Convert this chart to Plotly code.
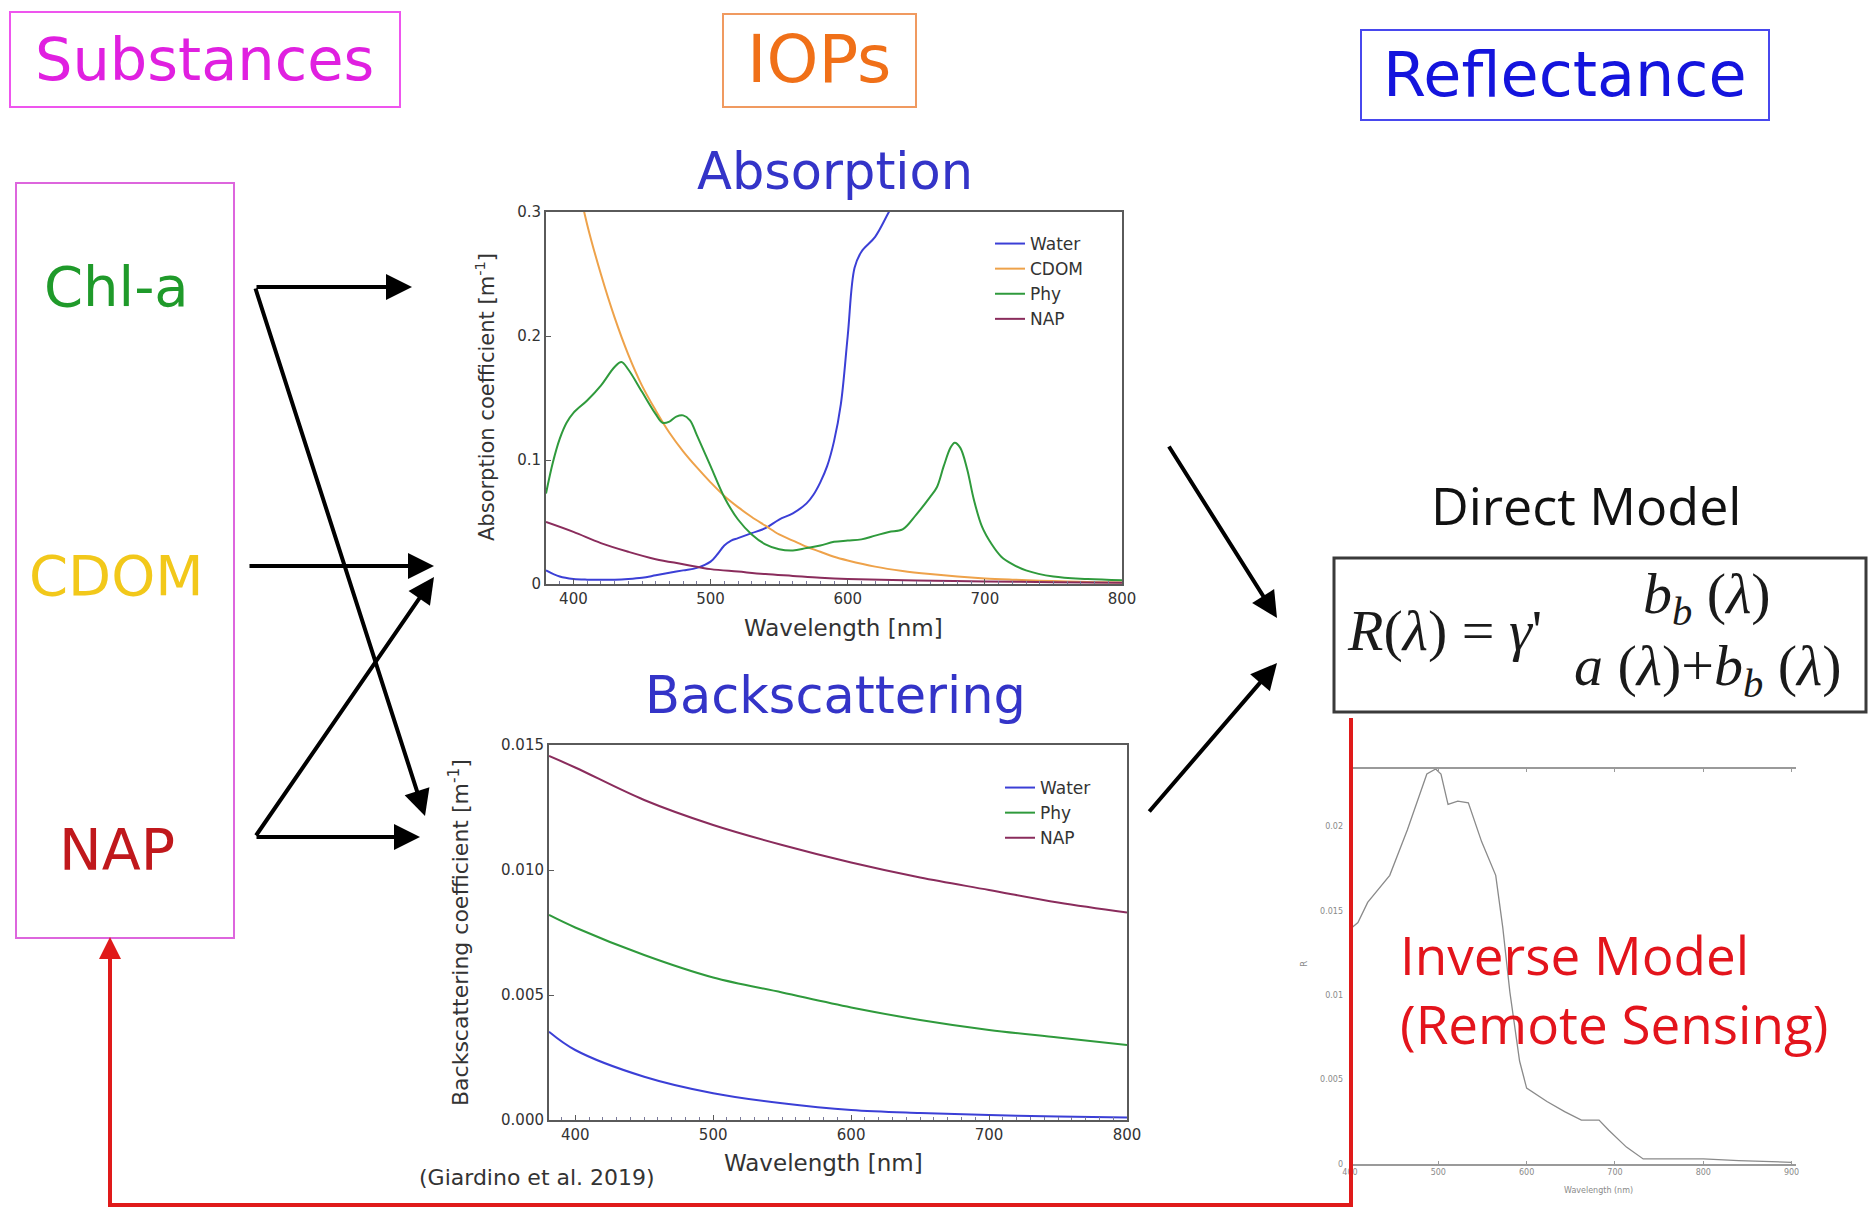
import plotly.graph_objects as go

W, H = 1870, 1211


def px(x):
    return x / W


def py(y):
    return 1 - y / H


# ---------------- absorption spectra (m^-1) ----------------
wl_water_a = [380, 390, 400, 410, 420, 430, 440, 450, 460, 470, 480, 490, 500, 505, 510,
              515, 520, 530, 540, 550, 560, 570, 575, 580, 585, 590, 595, 600, 605, 610,
              620, 630, 640]
a_water = [0.011, 0.006, 0.004, 0.0035, 0.0035, 0.0035, 0.004, 0.005, 0.007, 0.009, 0.011,
           0.013, 0.018, 0.024, 0.031, 0.035, 0.037, 0.041, 0.045, 0.052, 0.057, 0.065,
           0.072, 0.082, 0.095, 0.115, 0.145, 0.2, 0.255, 0.268, 0.28, 0.3, 0.32]

wl_cdom_a = [400, 410, 420, 430, 440, 450, 460, 470, 480, 490, 500, 510, 520, 530, 540,
             550, 560, 570, 580, 590, 600, 620, 640, 660, 680, 700, 720, 740, 760, 780, 800]
a_cdom = [0.34, 0.29, 0.25, 0.215, 0.185, 0.16, 0.14, 0.122, 0.107, 0.094, 0.082, 0.071,
          0.062, 0.054, 0.047, 0.04, 0.035, 0.03, 0.026, 0.022, 0.019, 0.014, 0.0105, 0.008,
          0.006, 0.0045, 0.0035, 0.0027, 0.002, 0.0015, 0.0012]

wl_phy_a = [380, 385, 390, 395, 400, 410, 420, 430, 435, 440, 450, 460, 465, 470, 475, 480,
            485, 490, 500, 510, 520, 530, 540, 550, 560, 570, 580, 590, 600, 610, 620, 630,
            640, 650, 660, 665, 670, 675, 678, 682, 687, 692, 698, 705, 712, 720, 730, 750,
            775, 800]
a_phy = [0.073, 0.098, 0.117, 0.13, 0.138, 0.148, 0.16, 0.175, 0.179, 0.173, 0.155, 0.137,
         0.13, 0.131, 0.135, 0.136, 0.132, 0.12, 0.095, 0.07, 0.052, 0.04, 0.032, 0.028,
         0.027, 0.029, 0.031, 0.034, 0.035, 0.036, 0.039, 0.042, 0.044, 0.056, 0.07, 0.078,
         0.095, 0.11, 0.114, 0.11, 0.093, 0.068, 0.046, 0.032, 0.022, 0.016, 0.011, 0.006,
         0.004, 0.003]

wl_nap_a = [380, 400, 420, 440, 460, 480, 500, 520, 540, 560, 580, 600, 650, 700, 750, 800]
a_nap = [0.05, 0.042, 0.033, 0.026, 0.02, 0.016, 0.012, 0.01, 0.008, 0.0065, 0.005, 0.004,
         0.0028, 0.002, 0.0015, 0.001]

# ---------------- backscattering spectra (m^-1) ----------------
wl_bb = [381, 400, 450, 500, 550, 600, 650, 700, 750, 800]
bb_water = [0.00353, 0.0028, 0.00173, 0.00107, 0.00067, 0.0004, 0.00028, 0.0002, 0.00014, 0.0001]
bb_phy = [0.0082, 0.0077, 0.0066, 0.0057, 0.0051, 0.0045, 0.0040, 0.0036, 0.0033, 0.0030]
bb_nap = [0.01456, 0.0141, 0.0128, 0.0118, 0.0110, 0.0103, 0.0097, 0.0092, 0.0087, 0.0083]

# ---------------- reflectance spectrum ----------------
wl_refl = [402, 409, 420, 445, 465, 487, 497, 503, 511, 522, 534, 549, 565, 573, 581, 592,
           600, 623, 643, 662, 682, 693, 713, 732, 800, 840, 900]
refl = [0.0140, 0.0143, 0.0155, 0.0171, 0.0198, 0.0231, 0.0234, 0.0231, 0.0213, 0.0215,
        0.0214, 0.0191, 0.0171, 0.0140, 0.0102, 0.0061, 0.0045, 0.0037, 0.0031, 0.0026,
        0.0026, 0.0020, 0.0010, 0.0003, 0.0003, 0.0002, 0.0001]

wl_ticks = [400, 500, 600, 700, 800]
a_ticks = [0, 0.1, 0.2, 0.3]
a_ticktext = ["0", "0.1", "0.2", "0.3"]
bb_ticks = [0, 0.005, 0.010, 0.015]
bb_ticktext = ["0.000", "0.005", "0.010", "0.015"]
r_wl_ticks = [400, 500, 600, 700, 800, 900]
r_ticks = [0, 0.005, 0.01, 0.015, 0.02]
r_ticktext = ["0", "0.005", "0.01", "0.015", "0.02"]

C_WATER = "#3b3fd6"
C_CDOM = "#eea24a"
C_PHY = "#2f9a3c"
C_NAP = "#8a2c5c"

fig = go.Figure()

line_kw = dict(mode="lines", line_shape="spline")
fig.add_trace(go.Scatter(x=wl_water_a, y=a_water, name="Water", line=dict(color=C_WATER, width=2),
                         xaxis="x", yaxis="y", legend="legend", **line_kw))
fig.add_trace(go.Scatter(x=wl_cdom_a, y=a_cdom, name="CDOM", line=dict(color=C_CDOM, width=2),
                         xaxis="x", yaxis="y", legend="legend", **line_kw))
fig.add_trace(go.Scatter(x=wl_phy_a, y=a_phy, name="Phy", line=dict(color=C_PHY, width=2),
                         xaxis="x", yaxis="y", legend="legend", **line_kw))
fig.add_trace(go.Scatter(x=wl_nap_a, y=a_nap, name="NAP", line=dict(color=C_NAP, width=2),
                         xaxis="x", yaxis="y", legend="legend", **line_kw))

fig.add_trace(go.Scatter(x=wl_bb, y=bb_water, name="Water", line=dict(color=C_WATER, width=2),
                         xaxis="x2", yaxis="y2", legend="legend2", **line_kw))
fig.add_trace(go.Scatter(x=wl_bb, y=bb_phy, name="Phy", line=dict(color=C_PHY, width=2),
                         xaxis="x2", yaxis="y2", legend="legend2", **line_kw))
fig.add_trace(go.Scatter(x=wl_bb, y=bb_nap, name="NAP", line=dict(color=C_NAP, width=2),
                         xaxis="x2", yaxis="y2", legend="legend2", **line_kw))

fig.add_trace(go.Scatter(x=wl_refl, y=refl, mode="lines", line=dict(color="#8a8a8a", width=1.3),
                         xaxis="x3", yaxis="y3", showlegend=False))

TICKFONT = dict(family="DejaVu Sans", size=15, color="#333333")
frame = dict(showline=True, mirror=True, linecolor="#5a5a5a", linewidth=2, showgrid=False,
             zeroline=False, ticks="inside", ticklen=5, tickcolor="#5a5a5a", tickfont=TICKFONT,
             automargin=False)
LEGFONT = dict(family="DejaVu Sans", size=17, color="#333333")

layout = dict(
    width=W, height=H, margin=dict(l=0, r=0, t=0, b=0, pad=0, autoexpand=False),
    paper_bgcolor="white", plot_bgcolor="white",
    xaxis=dict(domain=[px(546), px(1122)], range=[380, 800], tickvals=wl_ticks, anchor="y",
               minor=dict(ticks="inside", ticklen=3, dtick=10, tickcolor="#7a7a9a"), **frame),
    yaxis=dict(domain=[py(584), py(212)], range=[0, 0.3], tickvals=a_ticks, ticktext=a_ticktext,
               anchor="x", **frame),
    xaxis2=dict(domain=[px(549), px(1127)], range=[381, 800], tickvals=wl_ticks, anchor="y2",
                minor=dict(ticks="inside", ticklen=3, dtick=10, tickcolor="#7a7a9a"), **frame),
    yaxis2=dict(domain=[py(1120), py(745)], range=[0, 0.015], tickvals=bb_ticks,
                ticktext=bb_ticktext, anchor="x2", **frame),
    xaxis3=dict(domain=[px(1350), px(1796)], range=[400, 905], tickvals=r_wl_ticks, anchor="y3",
                showline=True, mirror="ticks", linecolor="#9a9a9a", linewidth=1.5,
                showgrid=False, zeroline=False, ticks="inside", ticklen=3, tickcolor="#9a9a9a",
                automargin=False,
                tickfont=dict(family="DejaVu Sans", size=8, color="#8a8a8a")),
    yaxis3=dict(domain=[py(1164), py(769)], range=[0, 0.0234], tickvals=r_ticks,
                ticktext=r_ticktext, anchor="x3", showline=False, showgrid=False,
                zeroline=False, ticks="", ticklabelstandoff=6, automargin=False,
                tickfont=dict(family="DejaVu Sans", size=8, color="#8a8a8a")),
    legend=dict(x=px(990), y=py(226), xanchor="left", yanchor="top", tracegroupgap=0,
                bgcolor="rgba(0,0,0,0)", font=LEGFONT),
    legend2=dict(x=px(1000), y=py(770), xanchor="left", yanchor="top", tracegroupgap=0,
                 bgcolor="rgba(0,0,0,0)", font=LEGFONT),
)
fig.update_layout(**layout)

shapes = []
annos = []


def rect(x0, y0, x1, y1, color, width=2):
    shapes.append(dict(type="rect", xref="paper", yref="paper", x0=px(x0), x1=px(x1),
                       y0=py(y1), y1=py(y0), line=dict(color=color, width=width),
                       fillcolor="rgba(0,0,0,0)"))


def text(x, y, s, size, color, family="DejaVu Sans", xanchor="center", angle=0):
    annos.append(dict(x=px(x), y=py(y), xref="paper", yref="paper", text=s, showarrow=False,
                      xanchor=xanchor, yanchor="middle", textangle=angle,
                      font=dict(family=family, size=size, color=color)))


def arrow(x0, y0, x1, y1, color="black", width=4, size=1.3):
    annos.append(dict(x=px(x1), y=py(y1), xref="paper", yref="paper", ax=x0 - x1, ay=y0 - y1,
                      axref="pixel", ayref="pixel", text="", showarrow=True, arrowhead=2,
                      arrowsize=size, arrowwidth=width, arrowcolor=color))


# column headers
rect(10, 12, 400, 107, "#ee55ee")
text(204, 60, "Substances", 59, "#e020e0")
rect(723, 14, 916, 107, "#f09a60")
text(819, 60, "IOPs", 66, "#f07018")
rect(1361, 30, 1769, 120, "#4848ee")
text(1565, 75, "Reflectance", 62, "#1414dd")

# substances column
rect(16, 183, 234, 938, "#dd66dd")
text(116, 286, "Chl-a", 56, "#1f9a2a")
text(117, 576, "CDOM", 56, "#f2c81a")
text(117, 850, "NAP", 57, "#c0181c")

# panel titles and axis titles
text(835, 171, "Absorption", 51, "#3434c8")
text(835, 695, "Backscattering", 51, "#3434c8")
text(485, 397, "Absorption coefficient [m<sup>-1</sup>]", 21, "#333333", angle=-90)
text(843, 628, "Wavelength [nm]", 23, "#333333")
text(459, 933, "Backscattering coefficient [m<sup>-1</sup>]", 22, "#333333", angle=-90)
text(823, 1163, "Wavelength [nm]", 23, "#333333")
text(537, 1177, "(Giardino et al. 2019)", 22, "#333333")

# reflectance panel labels
text(1598, 1190, "Wavelength (nm)", 8, "#8a8a8a")
text(1304, 964, "R", 9, "#8a8a8a", angle=-90)

# direct / inverse model
SANS = "Open Sans"
text(1586, 504, "Direct Model", 52, "#111111", family=SANS)
rect(1334, 558, 1866, 712, "#3a3a3a", width=3)
SERIF = "Liberation Serif"
text(1345, 630, "<i>R</i>(<i>λ</i>) = <i>γ</i>'", 58, "#1a1a1a", family=SERIF, xanchor="left")
text(1707, 597, "<i>b<sub>b</sub></i> (<i>λ</i>)", 58, "#1a1a1a", family=SERIF)
text(1708, 669, "<i>a</i> (<i>λ</i>)+<i>b<sub>b</sub></i> (<i>λ</i>)", 58, "#1a1a1a",
     family=SERIF)
text(1398, 954, "Inverse Model", 53, "#e3141c", family=SANS, xanchor="left")
text(1398, 1023, "(Remote Sensing)", 53, "#e3141c", family=SANS, xanchor="left")

# arrows from substances to IOP panels
arrow(255, 287, 412, 287)
arrow(255, 287, 425, 816)
arrow(248, 566, 434, 566)
arrow(255, 837, 434, 577)
arrow(255, 837, 420, 837)
# arrows from IOP panels to the model
arrow(1168, 445, 1277, 618)
arrow(1148, 813, 1277, 663)

# feedback loop (red)
RED = "#e01a1a"
shapes.append(dict(type="path", xref="paper", yref="paper",
                   path=f"M{px(1351)},{py(718)} L{px(1351)},{py(1205)} L{px(110)},{py(1205)} "
                        f"L{px(110)},{py(960)}",
                   line=dict(color=RED, width=4)))
arrow(110, 970, 110, 937, color=RED, width=4, size=1.1)

fig.update_layout(shapes=shapes, annotations=annos)
fig.write_html("out.html")
